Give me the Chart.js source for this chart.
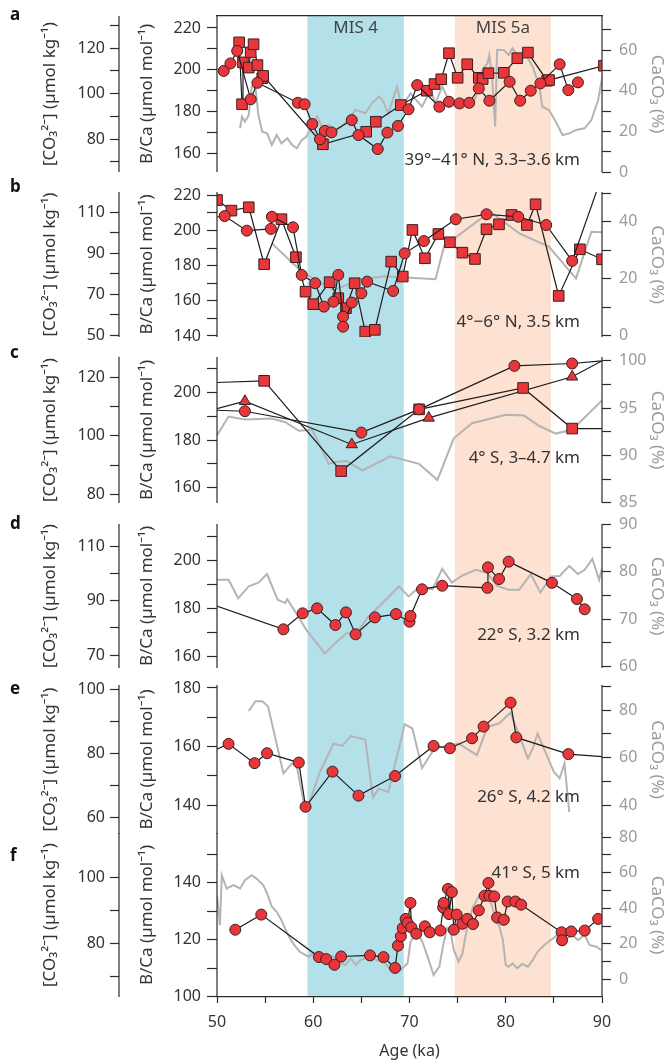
<!DOCTYPE html>
<html>
<head>
<meta charset="utf-8">
<script src="https://cdn.jsdelivr.net/npm/chart.js@4.4.0/dist/chart.umd.min.js"></script>
<style>
  body { margin: 0; background: #fff; }
  #figure { position: relative; width: 670px; height: 1063px; overflow: hidden; }
  #figure canvas { position: absolute; left: 0; }
</style>
</head>
<body>
<div id="figure"></div>
<script>
const ageTicks = [50, 55, 60, 65, 70, 75, 80, 85, 90];
const misBands = [[59.4, 69.4], [74.7, 84.7]];
const misNames = ["MIS 4", "MIS 5a"];
const panelLetters = ["a", "b", "c", "d", "e", "f"];
const sites = ["39°−41° N, 3.3–3.6 km", "4°−6° N, 3.5 km", "4° S, 3–4.7 km", "22° S, 3.2 km", "26° S, 4.2 km", "41° S, 5 km"];

// [age (ka), B/Ca (µmol/mol)] and [age, CaCO3 (%)]
const aCircles = [[50.7,199.4],[51.4,203.0],[52.1,209.0],[53.5,185.8],[54.2,193.7],[58.4,184.1],[59.1,183.4],[59.9,173.9],[60.7,166.6],[61.2,170.6],[61.9,169.9],[64.0,175.8],[64.7,168.6],[66.7,161.9],[67.7,169.8],[68.8,173.0],[69.9,181.0],[70.8,192.6],[73.1,182.2],[74.1,184.6],[75.2,183.8],[76.2,184.1],[77.2,191.0],[78.3,185.1],[80.4,194.2],[81.5,185.1],[82.6,189.9],[83.6,193.4],[85.6,202.6],[86.5,190.2],[87.5,193.9]];
const aSquares = [[52.3,213.1],[52.6,183.4],[52.7,203.5],[53.3,201.0],[53.5,208.3],[53.8,212.2],[54.2,202.2],[54.7,195.9],[54.8,197.0],[61.0,164.2],[65.5,170.2],[66.5,175.0],[69.1,183.0],[71.8,189.9],[72.6,193.1],[73.3,195.4],[74.1,207.9],[75.0,196.1],[76.0,202.6],[77.2,196.1],[77.6,195.5],[78.2,198.3],[79.8,198.5],[81.2,205.5],[82.3,208.2],[84.3,194.7],[84.5,195.0],[90.2,201.9]];
const aCaCO3 = [[52.4,21.5],[52.6,27.2],[52.9,24.7],[53.3,28.0],[53.6,42.0],[54.0,41.2],[54.3,28.0],[54.7,19.8],[55.2,19.0],[55.7,13.3],[56.2,18.2],[56.7,14.1],[57.3,16.6],[57.8,13.3],[58.3,11.7],[58.8,15.7],[59.3,17.4],[59.9,23.1],[60.4,27.2],[60.9,22.3],[61.6,23.1],[62.3,19.8],[63.3,23.9],[64.4,30.5],[65.4,28.9],[66.1,33.8],[66.8,37.0],[67.2,35.4],[67.8,28.9],[68.7,42.0],[69.2,32.1],[70.1,38.7],[71.3,32.1],[72.2,40.3],[72.7,33.8],[73.4,42.0],[73.9,37.0],[74.8,32.1],[75.5,35.4],[76.4,32.1],[76.9,37.0],[77.6,50.2],[78.1,53.5],[78.3,57.6],[78.6,45.3],[78.9,22.3],[79.1,60.0],[79.8,60.0],[80.3,57.6],[80.7,60.8],[81.2,57.6],[82.1,57.6],[82.8,51.8],[83.5,42.0],[83.8,32.1],[84.5,30.5],[85.2,24.7],[85.9,18.2],[86.6,19.0],[87.3,20.7],[88.2,21.5],[88.9,25.6],[89.6,35.4],[90.1,48.6]];

const bCircles = [[49.0,207.0],[50.8,208.2],[53.1,199.9],[55.6,200.9],[55.7,207.8],[57.9,201.8],[58.8,174.7],[60.2,170.0],[61.1,156.7],[62.1,159.5],[62.6,174.7],[63.1,151.0],[63.1,145.3],[64.0,159.0],[65.0,164.3],[65.6,170.9],[68.3,165.6],[69.5,187.0],[71.5,194.0],[74.8,206.4],[78.0,209.2],[81.3,207.8],[84.2,203.1],[86.9,182.7],[90.0,231.0]];
const bSquares = [[50.0,217.3],[51.5,211.3],[53.3,213.2],[54.9,180.8],[56.7,206.4],[58.2,184.8],[59.2,165.2],[60.0,158.1],[61.7,170.6],[62.6,161.5],[63.4,155.8],[64.3,170.0],[65.4,142.5],[66.4,143.5],[68.1,182.3],[69.3,173.8],[70.3,200.3],[71.6,184.2],[73.0,198.0],[74.2,193.3],[75.5,187.4],[76.8,183.8],[78.0,200.7],[79.3,203.5],[80.6,208.8],[82.2,203.1],[83.1,214.9],[85.5,162.8],[87.7,189.3],[90.0,183.6]];
const bCaCO3 = [[55.7,32.4],[58.8,22.5],[62.1,16.0],[64.9,19.8],[67.5,20.9],[72.7,19.8],[73.6,31.5],[78.4,43.5],[81.4,35.9],[84.5,31.2],[87.3,20.1],[88.9,36.5],[90.1,36.3]];

const cCircles = [[48.0,192.9],[52.9,192.2],[65.0,183.2],[71.0,193.0],[80.9,211.3],[86.9,212.3],[92.0,214.1]];
const cSquares = [[48.0,204.0],[54.9,205.0],[62.9,167.0],[71.0,193.0],[81.8,202.0],[86.9,184.9],[92.0,184.9]];
const cTriangles = [[48.0,191.2],[52.9,196.4],[64.0,178.2],[72.0,189.4],[86.9,206.7],[92.0,217.7]];
const cCaCO3 = [[50.0,92.1],[51.2,94.1],[52.9,93.8],[55.7,93.9],[57.1,93.5],[58.5,92.6],[59.9,92.7],[61.6,89.1],[62.3,89.3],[63.5,89.4],[65.1,88.4],[68.0,89.9],[71.0,89.1],[72.9,87.4],[74.6,91.8],[76.5,93.4],[80.0,94.3],[81.9,94.2],[83.5,93.1],[85.2,92.3],[86.9,92.7],[90.0,95.8]];

const dCircles = [[48.0,183.8],[56.9,171.2],[58.9,177.9],[60.4,180.0],[62.3,173.0],[63.4,178.3],[64.4,169.1],[66.4,176.2],[68.6,177.6],[70.0,174.4],[70.1,176.8],[71.3,188.0],[73.4,189.5],[78.1,188.6],[78.15,197.2],[79.3,192.3],[80.3,199.6],[84.8,190.7],[87.4,183.9],[88.2,179.6]];
const dCaCO3 = [[50.0,78.3],[51.2,78.3],[52.2,74.4],[53.3,76.9],[54.3,77.7],[55.2,79.5],[56.3,74.1],[57.1,73.4],[57.3,74.2],[57.9,72.3],[59.3,67.7],[61.2,62.8],[62.3,65.0],[63.5,67.1],[64.4,66.8],[65.6,70.2],[68.9,76.9],[69.9,74.8],[71.1,76.9],[72.4,76.3],[73.4,80.6],[74.4,77.7],[75.5,79.2],[76.9,80.4],[78.1,79.7],[79.1,77.0],[80.3,76.2],[81.4,76.2],[82.6,79.5],[83.6,75.6],[84.7,79.0],[85.6,79.1],[86.6,81.2],[87.5,79.5],[88.2,80.4],[89.0,82.7],[89.7,78.3],[90.0,80.7]];

const eCircles = [[49.0,157.6],[51.2,160.9],[53.9,154.3],[55.2,157.7],[58.5,154.5],[59.2,139.4],[62.0,151.4],[64.7,143.2],[68.5,149.9],[72.5,160.2],[74.2,159.4],[76.5,162.8],[77.7,166.8],[80.5,175.0],[81.1,163.1],[86.5,157.4],[92.0,156.0]];
const eCaCO3 = [[53.3,79.6],[54.0,83.7],[54.7,83.7],[55.3,81.6],[56.9,53.3],[57.8,57.5],[58.3,56.0],[59.0,41.3],[59.5,39.9],[60.7,53.9],[62.1,65.9],[63.0,64.9],[63.9,69.0],[65.4,67.6],[66.2,43.2],[66.8,46.9],[67.8,45.5],[69.5,74.0],[70.3,72.2],[71.3,55.6],[72.6,63.8],[75.1,65.9],[77.0,61.0],[78.1,72.9],[79.3,74.3],[80.5,78.9],[82.3,59.6],[82.8,63.8],[83.3,70.1],[85.0,53.9],[85.6,51.2],[86.1,57.5],[86.6,37.1]];

const fCircles = [[51.9,123.5],[54.6,128.8],[60.6,113.9],[61.35,113.2],[62.2,111.2],[62.9,114.1],[65.9,114.5],[67.3,113.9],[68.5,110.1],[68.8,117.9],[69.1,121.2],[69.3,124.1],[69.6,127.3],[69.8,125.9],[70.1,132.9],[70.2,124.3],[70.7,122.1],[71.6,124.7],[72.1,122.6],[73.2,123.2],[73.5,131.3],[73.55,132.9],[74.0,137.8],[74.1,129.0],[74.4,136.7],[74.6,123.5],[74.9,128.8],[75.5,125.6],[76.0,127.3],[76.6,125.5],[77.2,130.3],[77.8,135.4],[78.2,139.9],[78.3,135.4],[78.8,135.2],[79.1,127.8],[79.8,127.0],[80.2,133.4],[81.0,133.4],[81.6,132.3],[85.8,122.6],[85.85,119.8],[86.8,122.9],[88.2,123.2],[89.6,127.3]];
const fCaCO3 = [[50.0,47.4],[50.3,30.5],[50.5,58.6],[51.0,51.1],[51.7,53.0],[52.4,51.1],[52.9,55.8],[53.6,58.6],[54.1,56.7],[54.8,53.0],[55.2,48.3],[55.7,40.8],[56.2,38.0],[56.7,33.3],[57.3,25.8],[57.9,20.2],[58.6,15.5],[59.5,12.7],[60.4,15.5],[61.2,13.7],[62.1,12.7],[63.3,8.0],[63.9,11.8],[64.4,8.0],[64.9,10.8],[65.8,12.7],[66.6,10.8],[67.5,9.0],[68.0,5.2],[69.1,5.2],[69.8,9.0],[70.1,21.1],[70.8,26.7],[71.4,20.2],[72.0,10.8],[72.5,2.4],[73.1,7.1],[73.5,19.3],[73.9,28.7],[74.3,25.8],[74.6,16.5],[75.1,9.9],[75.5,14.6],[76.0,29.6],[76.6,40.8],[77.2,46.8],[77.7,48.3],[78.2,46.4],[78.6,40.8],[79.0,32.4],[79.3,30.5],[79.7,22.1],[80.0,8.0],[80.3,7.1],[80.7,9.0],[81.2,6.2],[81.7,8.6],[82.3,7.1],[82.8,10.8],[83.3,15.5],[84.0,19.3],[84.9,23.0],[85.6,25.8],[86.3,23.0],[86.9,24.9],[87.5,22.1],[88.2,24.9],[88.7,19.3],[89.4,18.3],[89.9,16.5]];

const INK = "#2b2b2b";
const GREY_TEXT = "#9a9a9a";
const RED = "#e8363b";
const FONT = '"Noto Sans", "DejaVu Sans", sans-serif';
const PLOT_LEFT = 217;
const PLOT_RIGHT = 602;
const PLOT_TOP = 16;
const PLOT_BOTTOM = 997;
const MARGIN = 24;

Chart.defaults.font.family = FONT;
Chart.defaults.font.size = 16;
Chart.defaults.color = INK;

// pixel layout of each panel; cal = [value, y, value, y]
const layout = [
  { top: 16, bottom: 172, letterY: 15, siteY: 160,
    co3: { cal: [120, 48, 80, 139], span: [70, 130], step: 10, label: [80, 20] },
    bca: { cal: [220, 28, 160, 153], span: [156.6, 226], step: 10, label: [160, 20] },
    caco3: { cal: [60, 50, 0, 172], span: [0, 70], step: 10, label: [0, 20] } },
  { top: 192, bottom: 337, letterY: 187, siteY: 322,
    co3: { cal: [110, 212.3, 50, 335], span: [50, 118.5], step: 10, label: [50, 20] },
    bca: { cal: [220, 195.3, 140, 336], span: [140, 221.3], step: 10, label: [140, 20] },
    caco3: { cal: [40, 221.7, 0, 335.7], span: [0, 50], step: 10, label: [0, 20] } },
  { top: 357, bottom: 503, letterY: 353, siteY: 458,
    co3: { cal: [120, 377.3, 80, 494.3], span: [78, 127], step: 10, label: [80, 20] },
    bca: { cal: [200, 392.7, 160, 487.7], span: [154.8, 215], step: 10, label: [160, 20] },
    caco3: { cal: [100, 360.7, 85, 502.7], span: [85, 100], step: 2.5, label: [85, 5] } },
  { top: 524, bottom: 668, letterY: 524, siteY: 635,
    co3: { cal: [110, 546.7, 70, 655], span: [65.2, 118], step: 10, label: [70, 20] },
    bca: { cal: [200, 560.7, 160, 656], span: [155.5, 215.4], step: 10, label: [160, 20] },
    caco3: { cal: [80, 571.7, 60, 666.7], span: [60, 90], step: 5, label: [60, 10] } },
  { top: 685, bottom: 834, letterY: 689, siteY: 797,
    co3: { cal: [100, 689.3, 60, 817.3], span: [55, 100], step: 10, label: [60, 20] },
    bca: { cal: [180, 688, 140, 805], span: [131, 181], step: 10, label: [140, 20] },
    caco3: { cal: [80, 710, 40, 805], span: [30.4, 90], step: 10, label: [40, 20] } },
  { top: 833, bottom: 997, letterY: 856, siteY: 873,
    co3: { cal: [100, 877.3, 80, 943.3], span: [64.7, 107], step: 10, label: [80, 20] },
    bca: { cal: [140, 882.7, 100, 996.7], span: [100, 150.2], step: 10, label: [100, 20] },
    caco3: { cal: [60, 872.7, 0, 979.3], span: [0, 80], step: 10, label: [0, 20] } }
];

const marks = [
  [{ data: aCircles, style: "circle" }, { data: aSquares, style: "rect" }],
  [{ data: bCircles, style: "circle" }, { data: bSquares, style: "rect" }],
  [{ data: cCircles, style: "circle" }, { data: cSquares, style: "rect" }, { data: cTriangles, style: "triangle" }],
  [{ data: dCircles, style: "circle" }],
  [{ data: eCircles, style: "circle" }],
  [{ data: fCircles, style: "circle" }]
];
const caco3Series = [aCaCO3, bCaCO3, cCaCO3, dCaCO3, eCaCO3, fCaCO3];

const figure = document.querySelector("#figure");

const addCanvas = (top, height) => {
  const canvas = document.createElement("canvas");
  canvas.width = 670;
  canvas.height = height;
  canvas.style.top = top + "px";
  figure.appendChild(canvas);
  return canvas;
};

const toPoints = (rows) => rows.map(([x, y]) => ({ x, y }));

const axisRange = (ax, top, bottom) => {
  const [v1, p1, v2, p2] = ax.cal;
  const k = (p2 - p1) / (v1 - v2);
  return { min: v2 - (bottom - p2) / k, max: v1 + (p1 - top) / k };
};

const tickValues = (ax) => {
  const out = [];
  let v = Math.ceil(ax.span[0] / ax.step - 1e-9) * ax.step;
  for (; v <= ax.span[1] + 1e-9; v += ax.step) out.push(Math.round(v * 100) / 100);
  return out;
};

const yAxis = (ax, lay, o) => {
  const r = axisRange(ax, lay.top, lay.bottom);
  return {
    type: "linear",
    position: o.position,
    weight: o.weight,
    bounds: "data",
    min: r.min,
    max: r.max,
    border: { display: false },
    grid: { display: true, drawOnChartArea: false, drawTicks: true, tickLength: o.tickLength, tickColor: INK, tickWidth: 1.2 },
    ticks: {
      autoSkip: false,
      padding: o.pad,
      color: o.color,
      font: { size: 16 },
      callback: (v) => ((v - ax.label[0]) % ax.label[1] === 0 ? String(v) : "")
    },
    title: { display: true, text: o.title, color: o.color, font: { size: 17 }, padding: { top: o.titlePad, bottom: 0 } },
    afterBuildTicks: (s) => { s.ticks = tickValues(ax).map((value) => ({ value })); },
    afterFit: (s) => { s.width = o.width; s.paddingTop = 0; s.paddingBottom = 0; }
  };
};

// axis lines only over the span that the reference draws
const spinePlugin = {
  id: "spines",
  afterDraw(chart) {
    const lay = chart.$lay;
    const ctx = chart.ctx;
    ctx.save();
    ctx.strokeStyle = INK;
    ctx.lineWidth = 1.2;
    [["yc", lay.co3], ["yb", lay.bca], ["yr", lay.caco3]].forEach(([id, ax]) => {
      const s = chart.scales[id];
      const x = s.position === "left" ? s.right : s.left;
      const y1 = Math.max(s.getPixelForValue(ax.span[0]), s.getPixelForValue(s.min));
      const y2 = Math.min(s.getPixelForValue(ax.span[1]), s.getPixelForValue(s.max));
      ctx.beginPath();
      ctx.moveTo(x, Math.max(y1, y2));
      ctx.lineTo(x, Math.min(y1, y2));
      ctx.stroke();
    });
    ctx.fillStyle = "#333";
    ctx.font = "17px " + FONT;
    ctx.textAlign = "right";
    ctx.textBaseline = "middle";
    ctx.fillText(chart.$site, chart.chartArea.right - 22, lay.siteY - chart.$canvasTop);
    ctx.restore();
  }
};

const bandPlugin = {
  id: "bands",
  beforeDraw(chart) {
    const { ctx, chartArea } = chart;
    const x = chart.scales.x;
    const colors = ["#b4e0ea", "#fde1d1"];
    ctx.save();
    misBands.forEach(([from, to], i) => {
      const x1 = x.getPixelForValue(from);
      const x2 = x.getPixelForValue(to);
      ctx.fillStyle = colors[i];
      ctx.fillRect(x1, chartArea.top, x2 - x1, chartArea.bottom - chartArea.top);
      ctx.fillStyle = "#444";
      ctx.font = "17px " + FONT;
      ctx.textAlign = "center";
      ctx.textBaseline = "middle";
      ctx.fillText(misNames[i], (x1 + x2) / 2, chartArea.top + 12);
    });
    ctx.fillStyle = "#111";
    ctx.font = "bold 17px " + FONT;
    ctx.textAlign = "left";
    layout.forEach((lay, i) => ctx.fillText(panelLetters[i], 10, lay.letterY));
    ctx.restore();
  }
};

// background: MIS bands, frame line and shared age axis
new Chart(addCanvas(0, 1063), {
  type: "line",
  data: { datasets: [] },
  options: {
    responsive: false,
    animation: false,
    events: [],
    layout: { padding: { left: PLOT_LEFT, right: 670 - PLOT_RIGHT, top: PLOT_TOP, bottom: 0 } },
    plugins: { legend: { display: false }, tooltip: { enabled: false } },
    scales: {
      x: {
        type: "linear",
        position: "bottom",
        min: 50,
        max: 90,
        bounds: "data",
        border: { display: true, color: INK, width: 1.2 },
        grid: { display: true, drawOnChartArea: false, drawTicks: true, tickLength: 6, tickColor: INK, tickWidth: 1.2 },
        ticks: { autoSkip: false, padding: 10, color: "#333", font: { size: 16 }, callback: (v) => (v % 10 === 0 ? String(v) : "") },
        afterBuildTicks: (s) => { s.ticks = ageTicks.map((value) => ({ value })); },
        title: { display: true, text: "Age (ka)", color: "#333", font: { size: 16 }, padding: { top: 0, bottom: 1.5 } },
        afterFit: (s) => { s.height = 1063 - PLOT_BOTTOM; }
      },
      xt: {
        type: "linear",
        axis: "x",
        position: "top",
        min: 50,
        max: 90,
        border: { display: true, color: INK, width: 1.2 },
        grid: { display: false, drawTicks: false },
        ticks: { display: false },
        afterFit: (s) => { s.height = 0; }
      },
      y: { display: false, min: 0, max: 1 }
    }
  },
  plugins: [bandPlugin]
});

layout.forEach((lay, i) => {
  const canvasTop = lay.top - MARGIN;
  const canvas = addCanvas(canvasTop, lay.bottom - lay.top + 2 * MARGIN);

  const datasets = marks[i].map((m) => ({
    data: toPoints(m.data),
    yAxisID: "yb",
    borderColor: "#1c1c1c",
    borderWidth: 1.2,
    pointStyle: m.style,
    pointRadius: m.style === "circle" ? 5.5 : m.style === "rect" ? 7.5 : 6.5,
    pointBackgroundColor: RED,
    pointBorderColor: "#3a2020",
    pointBorderWidth: 1,
    tension: 0
  }));
  datasets.push({
    data: toPoints(caco3Series[i]),
    yAxisID: "yr",
    borderColor: "#b4b4b4",
    borderWidth: 2,
    pointRadius: 0,
    tension: 0
  });

  new Chart(canvas, {
    type: "line",
    data: { datasets },
    options: {
      responsive: false,
      animation: false,
      events: [],
      layout: { padding: { left: 0, right: 0, top: MARGIN, bottom: MARGIN } },
      plugins: { legend: { display: false }, tooltip: { enabled: false } },
      scales: {
        x: { type: "linear", min: 50, max: 90, display: false },
        yc: yAxis(lay.co3, lay, { position: "left", weight: 1, width: 119, tickLength: 9, pad: 5, color: "#333", title: "[CO₃²⁻] (µmol kg⁻¹)", titlePad: 40 }),
        yb: yAxis(lay.bca, lay, { position: "left", weight: 0, width: PLOT_LEFT - 119, tickLength: 10, pad: 6, color: "#333", title: "B/Ca (µmol mol⁻¹)", titlePad: 18 }),
        yr: yAxis(lay.caco3, lay, { position: "right", weight: 0, width: 670 - PLOT_RIGHT, tickLength: 9, pad: 8, color: GREY_TEXT, title: "CaCO₃ (%)", titlePad: 3 })
      }
    },
    plugins: [{
      id: "meta",
      beforeInit(c) { c.$lay = lay; c.$site = sites[i]; c.$canvasTop = canvasTop; }
    }, spinePlugin]
  });
});
</script>
</body>
</html>
